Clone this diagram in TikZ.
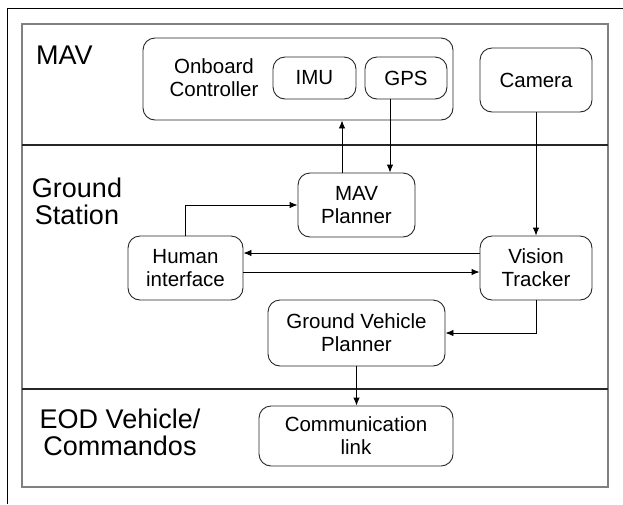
\documentclass[tikz,border=0pt]{standalone}
\usepackage{fontspec}
\setmainfont{Liberation Sans}
\usetikzlibrary{arrows.meta, positioning}

\tikzset{
	blk/.style={draw=black!85, line width=0.9pt, rounded corners=12pt, align=center, inner sep=0pt, font=\fontsize{20.5}{23}\selectfont},
	sect/.style={align=center, inner sep=0pt, font=\fontsize{27}{27}\selectfont},
	lnk/.style={line width=0.9pt, ->}
}

\begin{document}
\begin{tikzpicture}[x=1pt, y=-1pt, >={Latex[length=8pt,width=6.5pt]}]
		\useasboundingbox (0,0) rectangle (623,504);
		\draw [line width=0.9pt] (7,504) -- (7,8) -- (623,8);
		\draw [gray, line width=1.6pt] (22,24) rectangle (608,487);
		\draw [black!85, line width=1.1pt] (22,145) -- (608,145);
		\draw [black!85, line width=1.1pt] (22,389) -- (608,389);
		\node [sect, anchor=west] (mavlbl) at (36,55) {MAV};
		\node [sect] (gslbl) at (77,201) {Ground\\Station};
		\node [sect] (eodlbl) at (120,432) {EOD Vehicle/\\Commandos};
		\node [blk, minimum width=310pt, minimum height=82pt] (onboard) at (298,79) {};
		\node [align=center, inner sep=0pt, font=\fontsize{20.5}{23}\selectfont] (obtxt) at (214,78) {Onboard\\Controller};
		\node [blk, minimum width=83pt, minimum height=42pt] (imu) at (314.5,78) {IMU};
		\node [blk, minimum width=82pt, minimum height=42pt] (gps) at (406,78) {GPS};
		\node [blk, minimum width=112pt, minimum height=64pt] (camera) at (536,80) {Camera};
		\node [blk, minimum width=117pt, minimum height=64pt] (mavplan) at (356.5,205) {MAV\\Planner};
		\node [blk, minimum width=115pt, minimum height=64pt] (human) at (185.5,268) {Human\\interface};
		\node [blk, minimum width=112pt, minimum height=64pt] (vision) at (536,268) {Vision\\Tracker};
		\node [blk, minimum width=177pt, minimum height=66pt] (gvplan) at (356.5,333) {Ground Vehicle\\Planner};
		\node [blk, minimum width=194pt, minimum height=60pt] (comm) at (356,436) {Communication\\link};
		\draw [lnk] ([xshift=-14.5pt]mavplan.north) -- ([xshift=-14.5pt]mavplan.north |- onboard.south);
		\draw [lnk] ([xshift=-16pt]gps.south) -- ([xshift=-16pt]gps.south |- mavplan.north);
		\draw [lnk] (camera) -- (vision);
		\draw [lnk] (human.north) |- (mavplan.west);
		\draw [lnk] ([yshift=15pt]vision.west) -- ([yshift=15pt]human.east);
		\draw [lnk] ([yshift=-4pt]human.east) -- ([yshift=-4pt]vision.west);
		\draw [lnk] (vision.south) |- (gvplan.east);
		\draw [lnk] (gvplan.south) -- (gvplan.south |- comm.north);
	\end{tikzpicture}
\end{document}
